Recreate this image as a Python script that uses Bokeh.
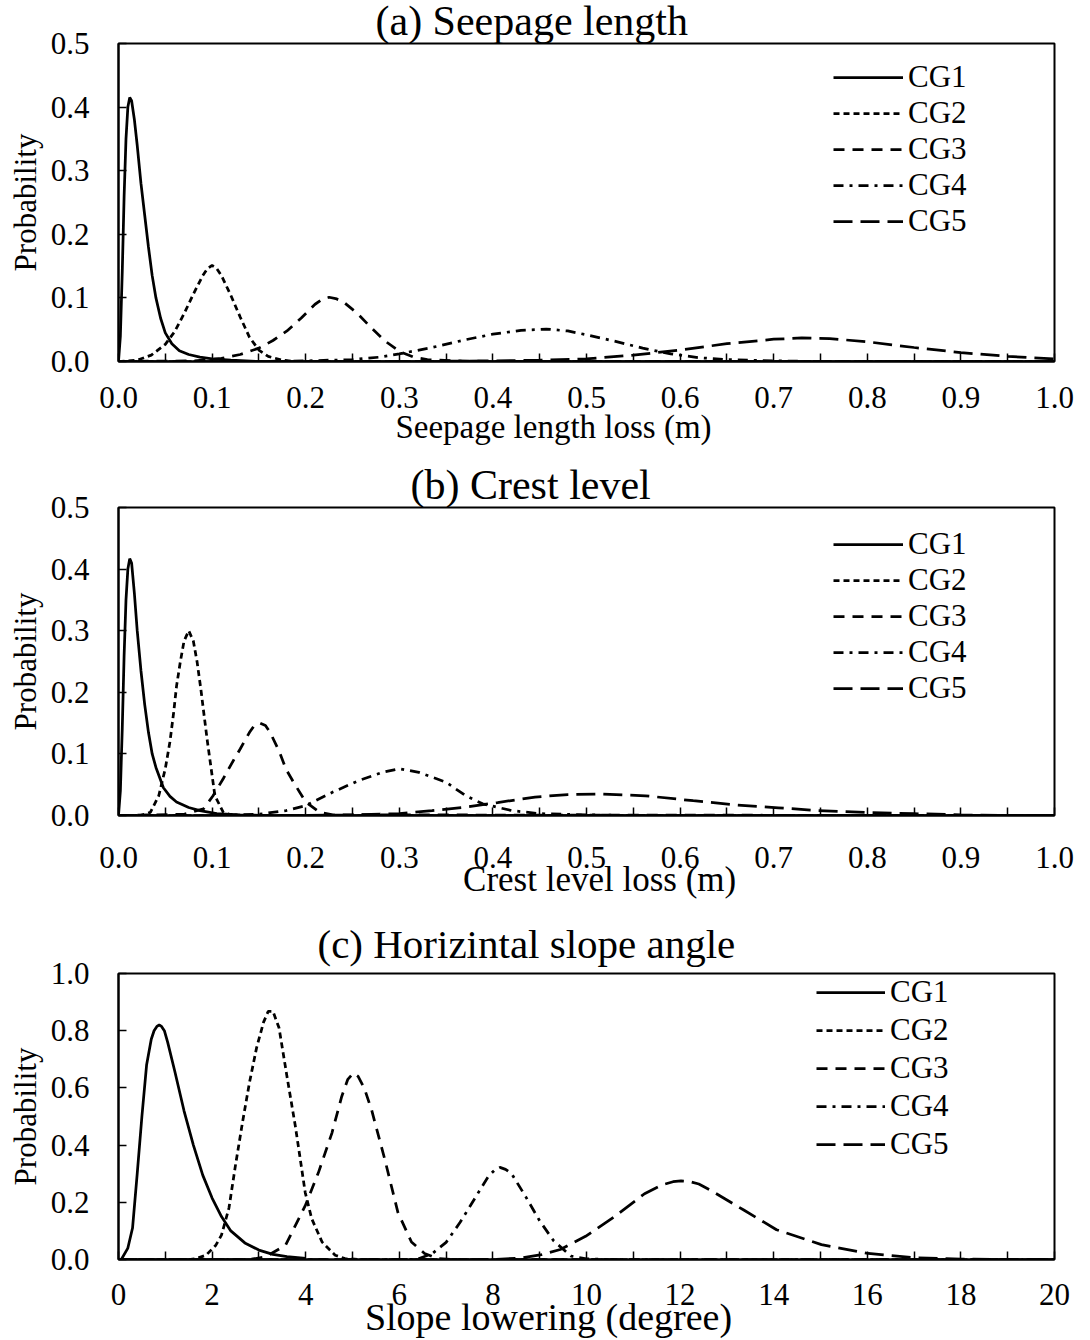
from bokeh.plotting import figure
from bokeh.models import Range1d, FixedTicker, PrintfTickFormatter, Legend, LegendItem, Title
from bokeh.layouts import column
from bokeh.embed import file_html
from bokeh.resources import INLINE

FONT = "Liberation Serif"
NBSP = "\u00a0"

series_names = ["CG1", "CG2", "CG3", "CG4", "CG5"]

# ---------------- Panel (a): Seepage length ----------------
a_cg1_x = [0, 0.002, 0.004, 0.006, 0.008, 0.010, 0.012, 0.014, 0.017, 0.020, 0.024, 0.028, 0.032, 0.036, 0.040, 0.045, 0.050, 0.057, 0.065, 0.075, 0.087, 0.10, 0.12, 0.15, 1.0]
a_cg1_y = [0, 0.04, 0.14, 0.26, 0.35, 0.40, 0.415, 0.41, 0.38, 0.34, 0.28, 0.23, 0.18, 0.135, 0.10, 0.068, 0.045, 0.028, 0.017, 0.011, 0.007, 0.004, 0.002, 0.0, 0.0]
a_cg2_x = [0, 0.02, 0.035, 0.05, 0.06, 0.07, 0.08, 0.09, 0.095, 0.1, 0.105, 0.11, 0.12, 0.13, 0.14, 0.15, 0.16, 0.175, 0.19, 1.0]
a_cg2_y = [0, 0.002, 0.010, 0.027, 0.047, 0.075, 0.106, 0.135, 0.146, 0.151, 0.146, 0.135, 0.104, 0.07, 0.038, 0.018, 0.008, 0.002, 0, 0]
a_cg3_x = [0, 0.08, 0.11, 0.13, 0.15, 0.165, 0.18, 0.195, 0.21, 0.218, 0.225, 0.232, 0.24, 0.255, 0.27, 0.285, 0.30, 0.315, 0.33, 0.36, 0.4, 1.0]
a_cg3_y = [0, 0.001, 0.005, 0.011, 0.021, 0.033, 0.048, 0.068, 0.09, 0.098, 0.101, 0.099, 0.094, 0.076, 0.053, 0.032, 0.016, 0.007, 0.003, 0.001, 0, 0]
a_cg4_x = [0, 0.15, 0.2, 0.25, 0.28, 0.30, 0.335, 0.37, 0.40, 0.43, 0.457, 0.48, 0.50, 0.53, 0.56, 0.59, 0.62, 0.65, 0.70, 0.75, 1.0]
a_cg4_y = [0, 0, 0.001, 0.003, 0.007, 0.012, 0.022, 0.034, 0.043, 0.049, 0.051, 0.048, 0.042, 0.032, 0.021, 0.012, 0.006, 0.003, 0.001, 0, 0]
a_cg5_x = [0, 0.3, 0.4, 0.45, 0.5, 0.55, 0.6, 0.65, 0.7, 0.73, 0.76, 0.8, 0.85, 0.9, 0.95, 1.0]
a_cg5_y = [0, 0, 0.001, 0.002, 0.004, 0.010, 0.018, 0.028, 0.035, 0.037, 0.036, 0.031, 0.022, 0.014, 0.008, 0.004]

# ---------------- Panel (b): Crest level ----------------
b_cg1_x = [0, 0.002, 0.004, 0.006, 0.008, 0.010, 0.012, 0.014, 0.017, 0.020, 0.024, 0.028, 0.032, 0.036, 0.040, 0.048, 0.055, 0.062, 0.075, 0.087, 0.105, 0.13, 0.16, 1.0]
b_cg1_y = [0, 0.04, 0.14, 0.26, 0.35, 0.40, 0.417, 0.41, 0.36, 0.30, 0.235, 0.18, 0.135, 0.10, 0.078, 0.045, 0.031, 0.022, 0.013, 0.008, 0.003, 0.001, 0, 0]
b_cg2_x = [0, 0.023, 0.034, 0.043, 0.05, 0.055, 0.059, 0.062, 0.066, 0.07, 0.075, 0.08, 0.084, 0.088, 0.091, 0.095, 0.098, 0.103, 0.112, 0.123, 1.0]
b_cg2_y = [0, 0, 0.005, 0.032, 0.076, 0.12, 0.168, 0.21, 0.249, 0.283, 0.300, 0.283, 0.249, 0.205, 0.168, 0.12, 0.087, 0.032, 0.005, 0, 0]
b_cg3_x = [0, 0.07, 0.091, 0.101, 0.112, 0.123, 0.13, 0.14, 0.145, 0.151, 0.157, 0.162, 0.172, 0.179, 0.187, 0.2, 0.215, 0.229, 1.0]
b_cg3_y = [0, 0.002, 0.011, 0.032, 0.06, 0.09, 0.108, 0.135, 0.146, 0.150, 0.146, 0.135, 0.103, 0.075, 0.054, 0.022, 0.005, 0.001, 0]
b_cg4_x = [0, 0.1, 0.15, 0.179, 0.2, 0.229, 0.257, 0.282, 0.30, 0.321, 0.35, 0.371, 0.389, 0.42, 0.45, 0.5, 0.55, 1.0]
b_cg4_y = [0, 0, 0.002, 0.008, 0.016, 0.038, 0.057, 0.07, 0.076, 0.07, 0.054, 0.032, 0.019, 0.008, 0.003, 0.001, 0, 0]
b_cg5_x = [0, 0.2, 0.25, 0.3, 0.335, 0.371, 0.405, 0.445, 0.48, 0.516, 0.563, 0.614, 0.661, 0.705, 0.748, 0.8, 0.85, 0.9, 0.95, 1.0]
b_cg5_y = [0, 0, 0.001, 0.003, 0.008, 0.0135, 0.021, 0.03, 0.034, 0.035, 0.032, 0.024, 0.017, 0.0125, 0.008, 0.005, 0.003, 0.001, 0, 0]

# ---------------- Panel (c): Horizontal slope angle ----------------
c_cg1_x = [0, 0.06, 0.2, 0.3, 0.4, 0.5, 0.6, 0.7, 0.76, 0.82, 0.87, 0.92, 0.98, 1.05, 1.2, 1.4, 1.6, 1.8, 2.0, 2.2, 2.4, 2.7, 3.0, 3.3, 3.6, 4.0]
c_cg1_y = [0, 0, 0.04, 0.11, 0.3, 0.5, 0.68, 0.77, 0.80, 0.815, 0.82, 0.815, 0.80, 0.76, 0.66, 0.52, 0.40, 0.295, 0.215, 0.15, 0.10, 0.058, 0.033, 0.018, 0.01, 0.004]
c_cg2_x = [0, 1.5, 1.66, 1.87, 2.08, 2.2, 2.36, 2.5, 2.65, 2.8, 2.95, 3.1, 3.2, 3.3, 3.43, 3.6, 3.78, 3.99, 4.13, 4.35, 4.63, 4.84, 5.2, 20]
c_cg2_y = [0, 0, 0.003, 0.015, 0.05, 0.085, 0.18, 0.33, 0.48, 0.62, 0.74, 0.83, 0.868, 0.868, 0.81, 0.64, 0.465, 0.234, 0.142, 0.061, 0.015, 0.003, 0, 0]
c_cg3_x = [0, 2.8, 3.14, 3.57, 3.99, 4.27, 4.56, 4.77, 4.9, 5.02, 5.12, 5.25, 5.41, 5.69, 5.97, 6.26, 6.54, 6.82, 7.2, 20]
c_cg3_y = [0, 0, 0.009, 0.05, 0.188, 0.303, 0.442, 0.57, 0.63, 0.652, 0.64, 0.6, 0.522, 0.35, 0.165, 0.061, 0.021, 0.003, 0, 0]
c_cg4_x = [0, 6.2, 6.4, 6.7, 7.0, 7.3, 7.6, 7.9, 8.05, 8.15, 8.27, 8.4, 8.7, 9.0, 9.3, 9.67, 10.0, 10.5, 20]
c_cg4_y = [0, 0, 0.002, 0.02, 0.06, 0.13, 0.21, 0.29, 0.315, 0.322, 0.315, 0.30, 0.22, 0.135, 0.065, 0.012, 0.002, 0, 0]
c_cg5_x = [0, 8.0, 8.6, 9.04, 9.44, 9.98, 10.6, 11.24, 11.6, 11.85, 12.02, 12.2, 12.4, 12.65, 13.36, 14.06, 15.02, 16.02, 17.02, 18.0, 20]
c_cg5_y = [0, 0, 0.005, 0.017, 0.035, 0.081, 0.15, 0.23, 0.26, 0.272, 0.275, 0.273, 0.264, 0.242, 0.173, 0.104, 0.052, 0.021, 0.006, 0.001, 0]

# ---------------- Ticks ----------------
a_xticks = [0.0, 0.1, 0.2, 0.3, 0.4, 0.5, 0.6, 0.7, 0.8, 0.9, 1.0]
a_xminor = [0.05, 0.15, 0.25, 0.35, 0.45, 0.55, 0.65, 0.75, 0.85, 0.95]
a_yticks = [0.0, 0.1, 0.2, 0.3, 0.4, 0.5]
c_xticks = [0, 2, 4, 6, 8, 10, 12, 14, 16, 18, 20]
c_xminor = [1, 3, 5, 7, 9, 11, 13, 15, 17, 19]
c_yticks = [0.0, 0.2, 0.4, 0.6, 0.8, 1.0]

dashes = ["solid", "6 4", "11 8", "10 6 3 6", "19 8"]


def make_panel(title, title_offset, title_size, title_standoff, xlabel, xlabel_size,
               xlabel_standoff, curves, xend, yend, xticks, xminor, yticks, xfmt,
               height, borders, tick_standoff, legend_loc, row_h, glyph_w, margin=None):
    left, right, top, bottom = borders
    p = figure(width=1090, height=height, output_backend="svg", toolbar_location=None,
               x_range=Range1d(0, xend), y_range=Range1d(0, yend),
               min_border_left=left, min_border_right=right,
               min_border_top=top, min_border_bottom=bottom)
    if margin is not None:
        p.margin = margin
    p.add_layout(Title(text=title, align="left", offset=title_offset,
                       text_font=FONT, text_font_size=title_size,
                       text_font_style="normal", text_color="black",
                       standoff=title_standoff), "above")
    p.grid.visible = False
    p.outline_line_color = "black"
    p.outline_line_width = 2
    p.background_fill_color = "white"
    p.border_fill_color = "white"

    for ax in (p.xaxis[0], p.yaxis[0]):
        ax.axis_line_width = 2
        ax.axis_line_color = "black"
        ax.major_tick_in = 8
        ax.major_tick_out = 0
        ax.minor_tick_in = 8
        ax.minor_tick_out = 0
        ax.major_tick_line_width = 1.5
        ax.minor_tick_line_width = 1.5
        ax.major_tick_line_color = "black"
        ax.minor_tick_line_color = "black"
        ax.major_label_text_font = FONT
        ax.major_label_text_font_size = "31px"
        ax.major_label_text_color = "black"
        ax.axis_label_text_font = FONT
        ax.axis_label_text_font_style = "normal"
        ax.axis_label_text_color = "black"

    xa = p.xaxis[0]
    xa.ticker = FixedTicker(ticks=xticks, minor_ticks=xminor)
    xa.formatter = PrintfTickFormatter(format=xfmt)
    xa.major_label_standoff = tick_standoff
    xa.axis_label = xlabel
    xa.axis_label_text_font_size = xlabel_size
    xa.axis_label_standoff = xlabel_standoff

    ya = p.yaxis[0]
    ya.ticker = FixedTicker(ticks=yticks, minor_ticks=[])
    ya.formatter = PrintfTickFormatter(format="%.1f")
    ya.major_label_standoff = 29
    ya.axis_label = "Probability"
    ya.axis_label_text_font_size = "31px"
    ya.axis_label_standoff = 5

    items = []
    for name, dash, (xs, ys) in zip(series_names, dashes, curves):
        r = p.line(xs, ys, line_color="black", line_width=2.75, line_dash=dash)
        items.append(LegendItem(label=name, renderers=[r]))

    legend = Legend(items=items, location=legend_loc, label_text_font=FONT,
                    label_text_font_size="31px", label_text_color="black",
                    glyph_width=glyph_w, glyph_height=row_h, label_height=row_h,
                    label_standoff=5, spacing=0, padding=0, margin=0,
                    border_line_color=None, background_fill_alpha=0)
    p.add_layout(legend)
    return p


pa = make_panel("(a) Seepage length", 257, "42px", 0,
                "Seepage length loss (m)" + NBSP * 8, "33px", -2,
                [(a_cg1_x, a_cg1_y), (a_cg2_x, a_cg2_y), (a_cg3_x, a_cg3_y),
                 (a_cg4_x, a_cg4_y), (a_cg5_x, a_cg5_y)],
                1.0, 0.5, a_xticks, a_xminor, a_yticks, "%.1f",
                464, (118, 32, 10, 98), 25, (715, 122), 34, 70,
                margin=(-5, 0, 0, 0))

pb = make_panel("(b) Crest level", 292, "42px", 0,
                NBSP * 3 + "Crest level loss (m)", "35px", -11,
                [(b_cg1_x, b_cg1_y), (b_cg2_x, b_cg2_y), (b_cg3_x, b_cg3_y),
                 (b_cg4_x, b_cg4_y), (b_cg5_x, b_cg5_y)],
                1.0, 0.5, a_xticks, a_xminor, a_yticks, "%.1f",
                452, (118, 32, 10, 96), 31, (715, 109), 34, 70)

pc = make_panel("(c) Horizintal slope angle", 199, "41px", 14,
                "Slope lowering  (degree)" + NBSP * 7, "38px", -12,
                [(c_cg1_x, c_cg1_y), (c_cg2_x, c_cg2_y), (c_cg3_x, c_cg3_y),
                 (c_cg4_x, c_cg4_y), (c_cg5_x, c_cg5_y)],
                20, 1.0, c_xticks, c_xminor, c_yticks, "%d",
                429, (112, 36, 10, 79), 24, (698, 96), 38, 69)

layout = column(pa, pb, pc)
open("out.html", "w").write(file_html(layout, INLINE))
